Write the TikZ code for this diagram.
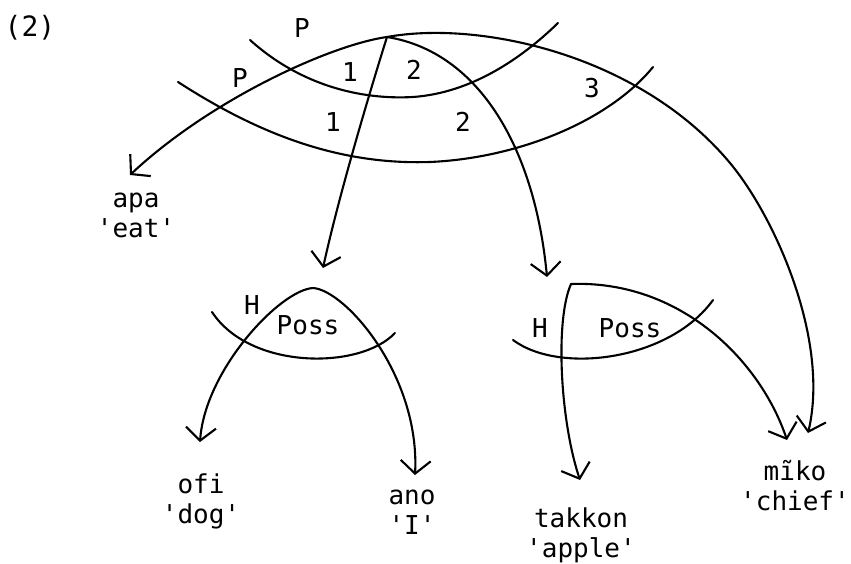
\documentclass[tikz,border=0pt]{standalone}
\usepackage{fontspec}
\setmonofont{DejaVu Sans Mono}
\usetikzlibrary{arrows.meta}
\begin{document}
\begin{tikzpicture}[x=1pt,y=-1pt,
  line width=2.1pt, line cap=round, line join=round,
  rel/.style={-{Straight Barb[length=13pt,width=30pt]}},
  word/.style={font=\ttfamily\fontsize{26}{30}\selectfont, align=center, inner sep=0pt},
  lab/.style={font=\ttfamily\fontsize{26}{30}\selectfont, inner sep=0pt}]
\useasboundingbox (0,0) rectangle (851,564);

% texts
\node[lab, font=\ttfamily\fontsize{28}{32}\selectfont] (num) at (30,28) {(2)};
\node[word] (apa) at (136,215) {apa\\'eat'};
\node[word] (ofi) at (201,501) {ofi\\'dog'};
\node[word] (ano) at (412,512) {ano\\'I'};
\node[word] (takkon) at (581,535) {takkon\\'apple'};
\node[word] (miko) at (795,486) {mĩko\\'chief'};

% relation labels
\node[lab] (lP1) at (302,28) {P};
\node[lab] (lP2) at (240,78) {P};
\node[lab] (l11) at (350,72) {1};
\node[lab] (l21) at (414,70) {2};
\node[lab] (l12) at (333,122) {1};
\node[lab] (l22) at (463,122) {2};
\node[lab] (l3) at (592,88) {3};
\node[lab] (lH1) at (252,305) {H};
\node[lab] (lPoss1) at (308,325) {Poss};
\node[lab] (lH2) at (540,328) {H};
\node[lab] (lPoss2) at (630,328) {Poss};

% heads of arcs
\coordinate (root) at (387,37);
\coordinate (ltop) at (313,288);
\coordinate (rtop) at (571,284);
\coordinate (m3) at (730,163);
% arrow tips
\coordinate (tapa) at (130,175);
\coordinate (tl) at (323,268);
\coordinate (tr) at (547,277);
\coordinate (tofi) at (200,442);
\coordinate (tano) at (415,475);
\coordinate (ttak) at (580,480);
\coordinate (tmiko1) at (787,440);
\coordinate (tmiko2) at (808,433);

% top arcs
\draw[rel] (root) .. controls (330,45) and (210,100) .. (tapa);
\draw[rel] (root) .. controls (375,75) and (340,190) .. (tl);
\draw[rel] (root) .. controls (480,52) and (535,150) .. (tr);
\draw[rel] (root) .. controls (480,20) and (640,55) .. (m3)
                  .. controls (775,217) and (830,340) .. (tmiko2);

% strata lines
\draw (250,40) .. controls (300,85) and (360,100) .. (413,97)
               .. controls (470,93) and (520,60) .. (558,23);
\draw (178,82) .. controls (260,135) and (340,165) .. (430,162)
               .. controls (520,158) and (610,120) .. (653,67);

% left cluster
\draw[rel] (ltop) .. controls (280,290) and (205,370) .. (tofi);
\draw[rel] (ltop) .. controls (345,290) and (420,375) .. (tano);
\draw (212,312) .. controls (250,370) and (360,370) .. (395,333);

% right cluster
\draw[rel] (rtop) .. controls (555,320) and (560,420) .. (ttak);
\draw[rel] (rtop) .. controls (680,280) and (760,360) .. (tmiko1);
\draw (513,340) .. controls (560,375) and (670,360) .. (713,300);
\end{tikzpicture}
\end{document}
